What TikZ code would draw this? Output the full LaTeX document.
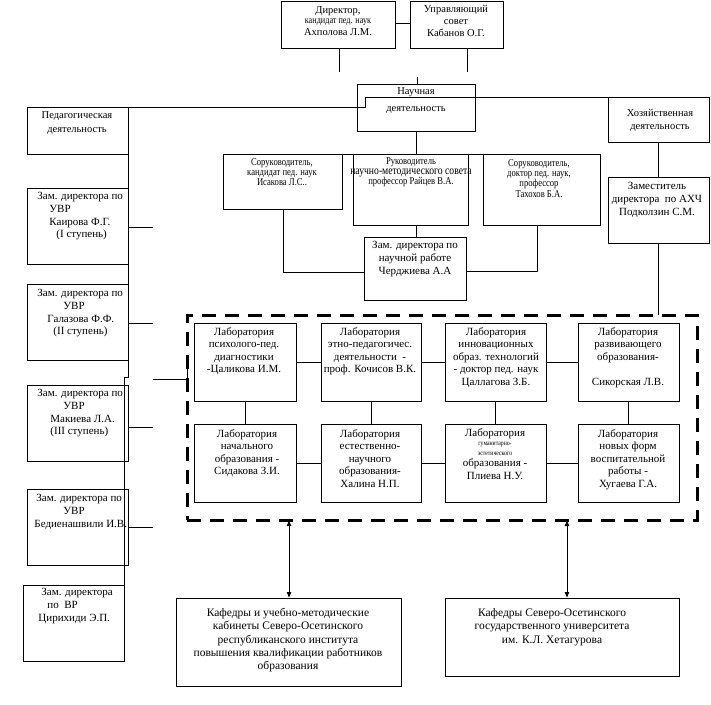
\documentclass[tikz,border=0pt]{standalone}
\usepackage{fontspec}
\setmainfont{Liberation Serif}
\newfontfamily\cndfam[FakeStretch=0.82]{Liberation Serif}
\usetikzlibrary{arrows.meta}
\newcommand\fL{\fontsize{11}{12.7}\selectfont}
\newcommand\fLab{\fontsize{11}{12.5}\selectfont}
\newcommand\fM{\fontsize{10.5}{12}\selectfont}
\newcommand\fS{\cndfam\fontsize{10.5}{10.2}\selectfont}
\newcommand\fK{\fontsize{11.5}{13.3}\selectfont}
\newcommand\fT{\cndfam\fontsize{7}{8}\selectfont}
\newcommand\mkbox[6][]{\node[bx,#1,minimum width={#5-#3},minimum height={#6-#4},anchor=north west] (#2) at (#3,#4) {};}
\begin{document}
\begin{tikzpicture}[x=1pt,y=-1pt,line width=0.9pt,
  bx/.style={draw, inner sep=0pt, outer sep=0pt, line width=0.9pt},
  dashbox/.style={draw, inner sep=0pt, outer sep=0pt, line width=3pt, dash pattern=on 14pt off 9pt},
  tx/.style={anchor=north, align=center, inner sep=0pt, execute at begin node=\strut},
  tl/.style={tx, anchor=north west, align=left},
  conn/.style={draw, line width=0.9pt},
  arr/.style={draw, line width=0.9pt, {Latex[length=6pt,width=5pt]}-{Latex[length=6pt,width=5pt]}}]
\fill[white] (0,0) rectangle (711,704);
\useasboundingbox (0,0) rectangle (711,704);

% boxes
\mkbox{dir}{281}{1}{395}{48}
\mkbox{cou}{410}{1}{503}{48}
\mkbox{nau}{357}{84}{475}{131}
\mkbox{ped}{27}{107}{128}{154}
\mkbox{hoz}{608}{97}{709}{142}
\mkbox{isa}{223}{154}{342}{209}
\mkbox{rai}{353}{154}{468}{225}
\mkbox{tax}{483}{154}{600}{225}
\mkbox{che}{364}{237}{466}{300}
\mkbox{akh}{608}{177}{709}{243}
\mkbox{b1}{27}{188}{128}{264}
\mkbox{b2}{27}{284}{128}{360}
\mkbox{b3}{27}{385}{128}{461}
\mkbox{b4}{27}{489}{128}{565}
\mkbox{b5}{23}{585}{124}{661}
\mkbox[dashbox]{lab}{187}{315}{697}{520}
\mkbox{L1}{194}{323}{296}{401}
\mkbox{L2}{321}{323}{421}{401}
\mkbox{L3}{445}{323}{546}{401}
\mkbox{L4}{578}{323}{679}{401}
\mkbox{L5}{194}{424}{296}{502}
\mkbox{L6}{321}{424}{421}{502}
\mkbox{L7}{445}{424}{546}{502}
\mkbox{L8}{578}{424}{679}{502}
\mkbox{k1}{176}{598}{401}{686}
\mkbox{k2}{445}{598}{679}{676}

% texts
\node[tx,font=\fontsize{10.5}{10.5}\selectfont] (tdir) at (338,6) {Директор,\\{\cndfam\fontsize{10}{10.5}\selectfont кандидат пед. наук}\\[1pt]Ахполова Л.М.};
\node[tx,font=\fM] (tcou) at (456,5) {Управляющий\\совет\\Кабанов О.Г.};
\node[tx,font=\fM] (tnau) at (416,87) {Научная\\[5pt]деятельность};
\node[tx,font=\fM] (tped) at (77,111) {Педагогическая\\[2pt]деятельность};
\node[tx,font=\fM] (thoz) at (660,109) {Хозяйственная\\[1pt]деятельность};
\node[tx,font=\fS] (tisa) at (282,158) {Соруководитель,\\кандидат пед. наук\\Исакова Л.С..};
\node[tx,font=\fS] (trai) at (411,157) {Руководитель\\{\cndfam\fontsize{11.8}{10.2}\selectfont научно-методического совета}\\профессор Райцев В.А.};
\node[tx,font=\fS] (ttax) at (539,159) {Соруководитель,\\доктор пед. наук,\\профессор\\Тахохов Б.А.};
\node[tx,font=\fL] (tche) at (415,241) {Зам. директора по\\научной работе\\Черджиева А.А};
\node[tx,font=\fL] (takh) at (657,182) {Заместитель\\директора\ \ по АХЧ\\Подколзин С.М.};

\node[tl,font=\fL] (tb1) at (37,192) {Зам. директора по\\\hspace*{12pt}УВР\\\hspace*{12pt}Каирова Ф.Г.\\\hspace*{19pt}(I ступень)};
\node[tl,font=\fL] (tb2) at (37,289) {Зам. директора по\\\hspace*{26pt}УВР\\\hspace*{10pt}Галазова Ф.Ф.\\\hspace*{16pt}(II ступень)};
\node[tl,font=\fL] (tb3) at (37,389) {Зам. директора по\\\hspace*{26pt}УВР\\\hspace*{13pt}Макиева Л.А.\\\hspace*{13pt}(III ступень)};
\node[tl,font=\fL] (tb4) at (36,494) {Зам. директора по\\\hspace*{27pt}УВР\\\hspace*{-2pt}Бедиенашвили И.В.};
\node[tl,font=\fL] (tb5) at (38,588) {\hspace*{3pt}Зам. директора\\\hspace*{9pt}по\ \ ВР\\Цирихиди Э.П.};

\node[tx,font=\fLab] (tL1) at (244,327) {Лаборатория\\психолого-пед.\\диагностики\\-Цаликова И.М.};
\node[tx,font=\fLab] (tL2) at (370,327) {Лаборатория\\этно-педагогичес.\\деятельности\ \ -\\проф. Кочисов В.К.};
\node[tx,font=\fLab] (tL3) at (496,327) {Лаборатория\\инновационных\\образ. технологий\\- доктор пед. наук\\Цаллагова З.Б.};
\node[tx,font=\fLab] (tL4) at (628,327) {Лаборатория\\развивающего\\образования-\\ \\Сикорская Л.В.};
\node[tx,font=\fLab] (tL5) at (247,429) {Лаборатория\\начального\\образования -\\Сидакова З.И.};
\node[tx,font=\fLab] (tL6) at (370,429) {Лаборатория\\естественно-\\научного\\образования-\\Халина Н.П.};
\node[tx,font=\fLab] (tL7) at (495,428) {Лаборатория\\[-3pt]{\fT гуманитарно-}\\[-3pt]{\fT эстетического}\\[-1pt]образования -\\Плиева Н.У.};
\node[tx,font=\fLab] (tL8) at (628,429) {Лаборатория\\новых форм\\воспитательной\\работы -\\Хугаева Г.А.};

\node[tx,font=\fK] (tk1) at (288,608) {Кафедры и учебно-методические\\кабинеты Северо-Осетинского\\республиканского института\\повышения квалификации работников\\образования};
\node[tx,font=\fK] (tk2) at (552,608) {Кафедры Северо-Осетинского\\государственного университета\\им. К.Л. Хетагурова};

% free ends
\coordinate (dEnd) at (339,72);
\coordinate (cEnd) at (467,72);
\coordinate (nTop) at (417,77);
\coordinate (s1) at (153,227);
\coordinate (s2) at (153,323);
\coordinate (s3) at (153,427);
\coordinate (s4) at (153,527);
\coordinate (s5) at (153,379);

% connectors
\draw[conn] (dir.east |- 0,23) -- (cou.west |- 0,23);
\draw[conn] (dir.south -| dEnd) -- (dEnd);
\draw[conn] (cou.south -| cEnd) -- (cEnd);
\draw[conn] (nTop) -- (nau.north -| nTop);
\draw[conn] (ped.north east) -- (365,107) -- (365,97) -- (hoz.north west);
\draw[conn] (ped.north east) -- (128,377) -- (124,377) -- (b5.north east);
\draw[conn] (b1.east |- s1) -- (s1);
\draw[conn] (b2.east |- s2) -- (s2);
\draw[conn] (b3.east |- s3) -- (s3);
\draw[conn] (b4.east |- s4) -- (s4);
\draw[conn] (s5) -- (lab.west |- s5) -- (lab.west |- 0,366);
\draw[conn] (nau.south -| 416,0) -- (rai.north -| 416,0);
\draw[conn] (isa.north east) -- (rai.north west);
\draw[conn] (rai.north east) -- (tax.north west);
\draw[conn] (isa.south -| 283,0) -- (283,272) -- (che.west |- 0,272);
\draw[conn] (rai.south -| 416,0) -- (che.north -| 416,0);
\draw[conn] (tax.south -| 537,0) -- (537,271) -- (che.east |- 0,271);
\draw[conn] (hoz.south -| 658,0) -- (akh.north -| 658,0);
\draw[conn] (akh.south -| 658,0) -- (lab.north -| 658,0);
\draw[conn] (L1.east) -- (L2.west);
\draw[conn] (L2.east) -- (L3.west);
\draw[conn] (L3.east) -- (L4.west);
\draw[conn] (L5.east) -- (L6.west);
\draw[conn] (L6.east) -- (L7.west);
\draw[conn] (L7.east) -- (L8.west);
\draw[conn] (L1.south) -- (L5.north);
\draw[conn] (L2.south) -- (L6.north);
\draw[conn] (L3.south) -- (L7.north);
\draw[conn] (L4.south) -- (L8.north);
\draw[arr] (lab.south -| 289,0) -- (k1.north -| 289,0);
\draw[arr] (lab.south -| 567,0) -- (k2.north -| 567,0);
\end{tikzpicture}
\end{document}
